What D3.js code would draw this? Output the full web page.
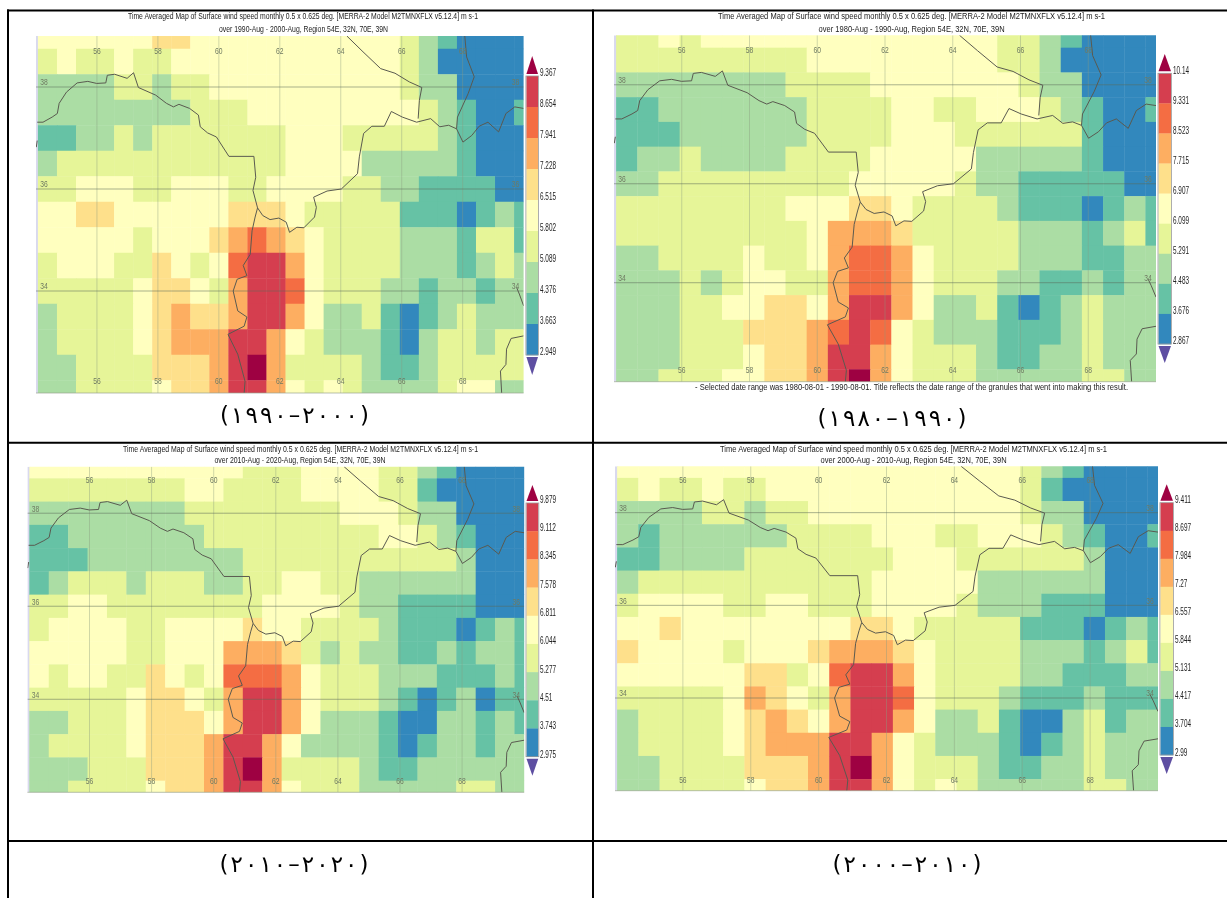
<!DOCTYPE html>
<html><head><meta charset="utf-8">
<style>html,body{margin:0;padding:0;background:#fff}svg{display:block}text{font-family:"Liberation Sans",Arial,sans-serif}.soft{filter:blur(.4px)}</style>
<script src="https://cdn.jsdelivr.net/npm/d3@7"></script></head><body>
<svg id="c" width="1227" height="898"></svg>
<script>
// Wind-speed class of each grid cell, north to south, west to east (0 = lowest legend band ... 9 = above top tick)
const bands1990 = [
"444444 55 44444444444 3 2 1 0000","3 4 33 4 33 444444444444 3 2 0 0000","2222 33 2 33 4444444444 3 22 0000",
"22222222 333 44444444 4 3 2 1 00 1","11 22 3 2 3333333 444 33333 2 1 000","2 333333333333 4444 22222 1 000",
"33 444 33 444 33 4444 33 22 1111 00","44 55 444444 555 4 33333 111 0 1 2 1","44444 3 444 5 6 7 6 5 4 3333 222 1 33 1",
"3 444 33 5 4 3 4 7 88 6 4 3333 222 1 2 3 2","33333 4 55 4 3 6 88 7 4 333 22 1 22 1 22","2 3333 4 5 6 55 6 88 6 4 22 3 1 0 1 2 3 222",
"2 3333 4 5 666 88 6 4 3 222 1 0 2 33 2 33","22 3333 555 6 8 9 6 3333 2 11 2 33333","22 3333 4 55 6 88 6 4 3 4 3 2222 3 44 22"];
const bands1980 = [
"33 4 3 44444444444444 33 2 1 0000","333333333 444444444 33 2 0 0000","22222222 3333 4444444 3 22 0000",
"11 2222222 3333 44 33 444 3 2 1 00 1","111 222222 3333 444 333333 1 000","1 22 3 2222 3333 44444 22222 1 000",
"22 333333333 44444 3 22 11111 00","33333333 444 55 4 3333 2 111 0 1 2 1","333333333 4 666 5 33333 222 1 2 3 1",
"22 3333 4 33 4 6 77 6 4 3333 222 11 22","222 3 2 3 44 33 6 77 6 4 333 22 11 2 1 22","222 33 44 55 4 6 88 6 4 22 3 1 0 1 2 3 222",
"222 333 555 6 7 8 7 4 3 222 111 2 3 222","222 333 4 55 6 88 6 4 333 2 11 22 3 222","22 333 44 55 6 8 9 6 4 333 22222 33 22"];
const bands2010 = [
"44444444444 333 4444 33 2 1 0000","33333333 44 3333 4444 33 1 0 0000","22222222 33333333 444 3 22 0000",
"11 2222222 333333333 44 3 2 1 000","111 22222222 33333333333 2 000","1 2 333 2 333 22 33 44 33 222222 000",
"33 44 33333333 4444 3 22 1111 000","3 4444 33 4444 5 44 3333 2 111 0 1 2 1","44444 33 444 666 5 3 2 3 22 11 2 1 22 1",
"4 3 44 33 5 4 3 4 777 6 4 333 222 111 2 1","33333 4 55 4 3 6 88 6 4 333 2 1 0 1 2 0 11","22 333 4 555 4 6 88 6 4 222 1 00 22 1 2 1",
"2 3333 4 555 6 88 6 4 2222 1 0 1 22 1 22","222 333 555 6 8 9 6 3333 2 11 222222","22 3333 4 55 6 88 6 4 333 22222 33 22"];
const bands2000 = [
"4444444444444444444 3 2 1 0000","3 4 33 4 33 444444444444 3 1 0 0000","2222 33 2 33 4444444444 3 22 0000",
"2 1 222222 3333 444 33 444 3 2 1 00 1","11 2222 3333333 444 333333 2 000","2 33333333333 44444 222222 000",
"3 4444 33 44 333 4444 3 222 111 000","44 5 44444444 55 4 33333 111 0 1 2 1","5 4444 3 444 5 666 5 4 3333 222 1 2 3 1",
"444444 55 3 4 7 88 6 4 3333 22 111 22","33333 4 6 5 4 3 6 88 7 4 333 2 111 2 111","2 3333 4 5 6 5 4 6 88 6 4 22 3 1 00 2 3 1 22",
"2 3333 4 5 666 88 6 4 3 222 1 0 1 2 3 222","22 3333 555 6 8 9 6 4 333 2 11 22 3 222","22 3333 4 55 6 88 6 4 3 4 3 22222 33 22"];

const ticks1990 = ["9.367","8.654","7.941","7.228","6.515","5.802","5.089","4.376","3.663","2.949"];
const ticks1980 = ["10.14","9.331","8.523","7.715","6.907","6.099","5.291","4.483","3.676","2.867"];
const ticks2010 = ["9.879","9.112","8.345","7.578","6.811","6.044","5.277","4.51","3.743","2.975"];
const ticks2000 = ["9.411","8.697","7.984","7.27","6.557","5.844","5.131","4.417","3.704","2.99"];

const bandColors = ["#3288bd","#66c2a5","#abdda4","#e6f598","#ffffbf","#fee08b","#fdae61","#f46d43","#d53e4f","#9e0142"];
const belowColor = "#5e4fa2";
const lonTicks = [56,58,60,62,64,66,68];
const latTicks = [38,36,34];
const cellLons = d3.range(26).map(i => 54.375 + i*0.625);
const cellLats = d3.range(15).map(i => 39 - i*0.5);

// borders, [lon, lat]
const borders = [
[[54.04,37.31],[54.23,37.31],[54.53,37.41],[54.70,37.48],[54.76,37.68],[55.00,37.90],[55.35,38.08],[55.70,38.11],[55.99,38.07],[56.29,38.08],[56.34,38.23],[56.58,38.25],[56.99,38.17],[57.20,38.28],[57.36,37.99],[57.93,37.84],[58.28,37.68],[58.51,37.61],[58.69,37.66],[59.04,37.58],[59.33,37.45],[59.39,37.22],[59.63,37.10],[59.92,37.02],[60.33,36.64],[61.15,36.64],[61.21,36.23],[61.12,35.97],[61.27,35.63]],
[[61.27,35.63],[61.19,35.45],[61.09,35.18],[61.03,34.72],[60.80,34.50],[60.92,34.30],[60.60,34.23],[60.47,34.00],[60.62,33.61],[60.92,33.49],[60.83,33.31],[60.30,33.15],[60.62,32.76],[60.86,32.23],[60.83,32.0]],
[[61.27,35.63],[61.44,35.48],[61.68,35.40],[61.97,35.43],[62.21,35.35],[62.32,35.15],[62.56,35.25],[62.79,35.24],[63.14,35.45],[63.20,35.64],[63.11,35.84],[63.55,35.96],[64.02,36.00],[64.55,36.30],[64.61,36.63],[64.75,37.09],[65.02,37.23],[65.43,37.23],[65.66,37.52],[66.02,37.41],[66.49,37.31],[66.95,37.38],[67.25,37.22],[67.54,37.25],[67.80,37.18],[68.01,36.92],[68.30,37.05],[68.54,37.23],[68.83,37.31],[69.18,37.12],[69.42,37.48],[69.71,37.61],[70,37.58]],
[[64.20,39.0],[64.73,38.69],[65.31,38.36],[65.78,38.27],[66.25,38.10],[66.66,37.99],[66.58,37.74],[66.54,37.38]],
[[68.07,39.0],[68.13,38.59],[68.38,38.20],[68.18,37.87],[67.83,37.41],[67.80,37.18]],
[[70,33.12],[69.59,33.07],[69.44,32.86],[69.42,32.56],[69.24,32.43],[69.28,32.0]],
[[69.77,34.07],[69.86,33.94],[70,33.71]],
[[54.04,36.95],[54.01,36.82]]
];

const titleA = "Time Averaged Map of Surface wind speed monthly 0.5 x 0.625 deg. [MERRA-2 Model M2TMNXFLX v5.12.4] m s-1";
const footNote = "- Selected date range was 1980-08-01 - 1990-08-01. Title reflects the date range of the granules that went into making this result.";

const panels = [
 {bands:bands1990,ticks:ticks1990,sub:"over 1990-Aug - 2000-Aug, Region 54E, 32N, 70E, 39N",cap:"(۱۹۹۰–۲۰۰۰)",
  x:[36,523.6],y:[36,393],t:[303,350,16,29,169,303.5],bar:[526.4,538,76,355,56,375,540],lab:[72.7,351],capXY:[294.5,415,149]},
 {bands:bands1980,ticks:ticks1980,sub:"over 1980-Aug - 1990-Aug, Region 54E, 32N, 70E, 39N",cap:"(۱۹۸۰–۱۹۹۰)",note:footNote,
  x:[614,1156],y:[35.3,381.7],t:[911.5,387,16,29,186,911.6],bar:[1158.5,1171,73.3,344,54,363,1173],lab:[70,340],capXY:[892,418,149]},
 {bands:bands2010,ticks:ticks2010,sub:"over 2010-Aug - 2020-Aug, Region 54E, 32N, 70E, 39N",cap:"(۲۰۱۰–۲۰۲۰)",
  x:[27.4,524.2],y:[466.7,792.3],t:[300.5,355,449,460,171,300],bar:[526.5,538.3,503,756.7,485,775.7,540],lab:[499.3,754],capXY:[294,864,149]},
 {bands:bands2000,ticks:ticks2000,sub:"over 2000-Aug - 2010-Aug, Region 54E, 32N, 70E, 39N",cap:"(۲۰۰۰–۲۰۱۰)",
  x:[615,1158],y:[466.3,790.7],t:[913.5,387,449,460,186,913.6],bar:[1160.4,1173,502.7,755,484.3,774,1175],lab:[499.3,752],capXY:[907,864,149]}
];

const svg = d3.select("#c");
const color = d3.scaleOrdinal(d3.range(10), bandColors);

panels.forEach((p,pi) => {
  const g = svg.append("g").attr("class","soft");
  const X = d3.scaleLinear([54,70], p.x), Y = d3.scaleLinear([39,32], p.y);
  const clipId = "clip"+pi;
  g.append("clipPath").attr("id",clipId).append("rect")
    .attr("x",p.x[0]).attr("y",p.y[0]).attr("width",p.x[1]-p.x[0]).attr("height",p.y[1]-p.y[0]);
  const m = g.append("g").attr("clip-path",`url(#${clipId})`);
  m.append("rect").attr("x",p.x[0]).attr("y",p.y[0]).attr("width",X(54.0625)-p.x[0]+1).attr("height",p.y[1]-p.y[0]).attr("fill","#d9d9ee");
  const cells = [];
  p.bands.forEach((row,r) => row.replace(/ /g,"").split("").forEach((b,c) => cells.push({r,c,b:+b})));
  m.selectAll("rect.cell").data(cells).join("rect").attr("class","cell")
    .attr("x",d => X(cellLons[d.c]-0.3125))
    .attr("y",d => Y(cellLats[d.r]+0.25))
    .attr("width",d => X(cellLons[d.c]+0.3125)-X(cellLons[d.c]-0.3125)+0.4)
    .attr("height",d => Y(cellLats[d.r]-0.25)-Y(cellLats[d.r]+0.25)+0.4)
    .attr("fill",d => color(d.b));
  // graticule
  m.selectAll("line.lon").data(lonTicks).join("line").attr("x1",d=>X(d)).attr("x2",d=>X(d)).attr("y1",p.y[0]).attr("y2",p.y[1])
    .attr("stroke","#8a9a80").attr("stroke-opacity",.5).attr("stroke-width",.8);
  m.selectAll("line.lat").data(latTicks).join("line").attr("y1",d=>Y(d)).attr("y2",d=>Y(d)).attr("x1",p.x[0]).attr("x2",p.x[1])
    .attr("stroke","#5a6a58").attr("stroke-opacity",.65).attr("stroke-width",.8);
  // borders
  const line = d3.line().x(d=>X(d[0])).y(d=>Y(d[1]));
  m.selectAll("path.b").data(borders).join("path").attr("d",line).attr("fill","none")
    .attr("stroke","#5a5a50").attr("stroke-width",1).attr("stroke-linejoin","round");
  // map frame bottom
  g.append("line").attr("x1",p.x[0]).attr("x2",p.x[1]).attr("y1",p.y[1]).attr("y2",p.y[1]).attr("stroke","#9aa58f").attr("stroke-width",.7);
  // graticule labels
  const labStyle = s => s.attr("font-size",8.5).attr("fill","#6f7a62").attr("text-anchor","middle");
  const lblY = [p.y[0]+ (p.y[1]-p.y[0])*0.0415, p.y[1]-(p.y[1]-p.y[0])*0.0345];
  lblY.forEach(yy => {
    g.append("g").selectAll("text").data(lonTicks).join("text").attr("x",d=>X(d)).attr("y",yy+3)
      .attr("textLength",7.5).attr("lengthAdjust","spacingAndGlyphs").text(d=>d).call(labStyle);
  });
  [p.x[0]+8, p.x[1]-8].forEach(xx => {
    g.append("g").selectAll("text").data(latTicks).join("text").attr("x",xx).attr("y",d=>Y(d)-1.6)
      .attr("textLength",7.5).attr("lengthAdjust","spacingAndGlyphs").text(d=>d).call(labStyle);
  });
  // title
  const tt = p.t;
  g.append("text").attr("x",tt[0]).attr("y",tt[2]+2.5).attr("text-anchor","middle").attr("font-size",9).attr("fill","#222")
    .attr("textLength",tt[1]).attr("lengthAdjust","spacingAndGlyphs").text(titleA);
  g.append("text").attr("x",tt[5]).attr("y",tt[3]+2.5).attr("text-anchor","middle").attr("font-size",9).attr("fill","#222")
    .attr("textLength",tt[4]).attr("lengthAdjust","spacingAndGlyphs").text(p.sub);
  if(p.note) g.append("text").attr("x",911.5).attr("y",390).attr("text-anchor","middle").attr("font-size",9).attr("fill","#222")
    .attr("textLength",433).attr("lengthAdjust","spacingAndGlyphs").text(p.note);
  // colour bar
  const [bx0,bx1,by0,by1,tTop,tBot,lx] = p.bar;
  const B = d3.scaleLinear([0,9],[by0,by1]);
  const order = d3.range(9).map(i => 8-i);
  g.append("g").selectAll("rect").data(order).join("rect").attr("x",bx0).attr("width",bx1-bx0)
    .attr("y",(d,i)=>B(i)).attr("height",(by1-by0)/9+.3).attr("fill",d=>bandColors[d]);
  g.append("rect").attr("x",bx0-.5).attr("y",by0).attr("width",bx1-bx0+1).attr("height",by1-by0).attr("fill","none").attr("stroke","#999").attr("stroke-width",.8);
  const xm=(bx0+bx1)/2;
  g.append("path").attr("d",`M${bx0},${by0-2}L${xm},${tTop}L${bx1},${by0-2}Z`).attr("fill",bandColors[9]);
  g.append("path").attr("d",`M${bx0},${by1+2}L${xm},${tBot}L${bx1},${by1+2}Z`).attr("fill",belowColor);
  const L = d3.scaleLinear([0,9],p.lab);
  g.append("g").selectAll("text").data(p.ticks).join("text").attr("x",lx).attr("y",(d,i)=>L(i)+3.5)
    .attr("font-size",10).attr("fill","#222").attr("textLength",d=>d.replace(".","").length*3.6+1.6).attr("lengthAdjust","spacingAndGlyphs").text(d=>d);
  // caption
  g.append("text").attr("x",p.capXY[0]).attr("y",p.capXY[1]+8).attr("text-anchor","middle")
    .style("font-family","'DejaVu Sans'").attr("font-size",23).attr("fill","#000").attr("direction","ltr").style("unicode-bidi","bidi-override")
    .attr("textLength",p.capXY[2]).text(p.cap);
});

// table rules
const hRules = [[7,1227,10.5,2],[7,1227,442.7,2],[7,1227,841,2]];
const vRules = [[8,9.5,898],[593,9.5,898]];
svg.append("g").selectAll("line").data(hRules).join("line").attr("x1",d=>d[0]).attr("x2",d=>d[1]).attr("y1",d=>d[2]).attr("y2",d=>d[2]).attr("stroke","#000").attr("stroke-width",d=>d[3]);
svg.append("g").selectAll("line").data(vRules).join("line").attr("x1",d=>d[0]).attr("x2",d=>d[0]).attr("y1",d=>d[1]).attr("y2",d=>d[2]).attr("stroke","#000").attr("stroke-width",2);
</script></body></html>
